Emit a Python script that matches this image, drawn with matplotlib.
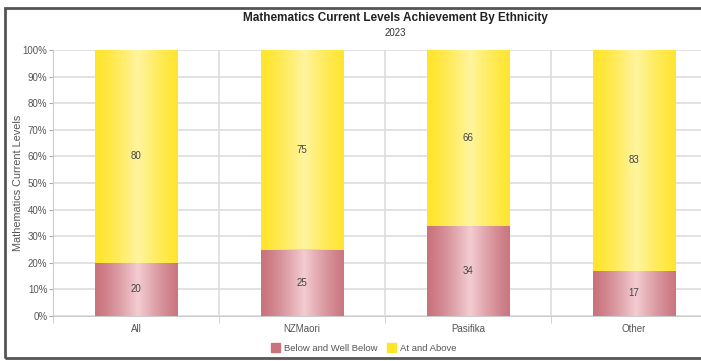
import numpy as np
import matplotlib
matplotlib.use("Agg")
import matplotlib.pyplot as plt
from matplotlib.patches import Rectangle
from matplotlib.colors import to_rgb

plt.rcParams["font.family"] = ["Liberation Sans", "DejaVu Sans"]

groups = ["All", "NZMaori", "Pasifika", "Other"]
below = [20, 25, 34, 17]
above = [80, 75, 66, 83]
series_names = ["Below and Well Below", "At and Above"]
yticks = [0, 10, 20, 30, 40, 50, 60, 70, 80, 90, 100]

red_edge, red_mid = "#c9737d", "#f3cdd2"
yel_edge, yel_mid = "#ffe52a", "#fff4a0"


def shade(edge, mid, n=200):
    # horizontal gradient: darker at the sides, light band just right of centre
    t = np.linspace(0, 1, n)
    w = np.clip(1 - np.abs(t - 0.52) / 0.52, 0, 1) ** 1.3
    e, m = np.array(to_rgb(edge)), np.array(to_rgb(mid))
    row = e[None, :] * (1 - w[:, None]) + m[None, :] * w[:, None]
    return row[None, :, :]


fig = plt.figure(figsize=(7.01, 3.61), dpi=100)
ax = fig.add_axes([53 / 701, 45 / 361, 664 / 701, 266 / 361])

x = np.arange(len(groups))
b1 = ax.bar(x, below, width=0.5, color=red_edge, zorder=2)
b2 = ax.bar(x, above, width=0.5, bottom=below, color=yel_edge, zorder=2)

for bars, (ce, cm) in [(b1, (red_edge, red_mid)), (b2, (yel_edge, yel_mid))]:
    img = shade(ce, cm)
    for p in bars:
        x0, y0 = p.get_x(), p.get_y()
        im = ax.imshow(img, extent=[x0, x0 + p.get_width(), y0, y0 + p.get_height()],
                       aspect="auto", zorder=3, interpolation="bilinear")
        im.set_clip_path(p)

for i in range(len(groups)):
    ax.text(x[i], below[i] / 2, str(below[i]), ha="center", va="center",
            fontsize=7, color="#444444", zorder=4)
    ax.text(x[i], below[i] + above[i] / 2, str(above[i]), ha="center", va="center",
            fontsize=7, color="#444444", zorder=4)

ax.set_xlim(-0.5, len(groups) - 0.5)
ax.set_ylim(0, 100)
ax.set_yticks(yticks)
ax.set_yticklabels([f"{v}%" for v in yticks])
ax.set_xticks(x)
ax.set_xticklabels(groups)
ax.set_xticks(np.arange(len(groups) + 1) - 0.5, minor=True)
ax.tick_params(axis="x", which="major", length=0, labelsize=7, labelcolor="#555555", pad=6)
ax.tick_params(axis="x", which="minor", length=5, color="#cccccc")
ax.tick_params(axis="y", length=3, color="#aaaaaa", labelsize=7, labelcolor="#555555", pad=1)
ax.grid(axis="y", color="#dddddd", lw=1.2, zorder=0)
ax.grid(axis="x", which="minor", color="#dddddd", lw=1.2, zorder=0)
for s in ["top", "right"]:
    ax.spines[s].set_visible(False)
ax.spines["left"].set_color("#cccccc")
ax.spines["bottom"].set_color("#cccccc")
ax.set_axisbelow(True)

ax.set_ylabel("Mathematics Current Levels", fontsize=7.8, color="#555555")
ax.yaxis.set_label_coords(-30 / 664, 0.5)

fig.text(395 / 701, 1 - 18 / 361, "Mathematics Current Levels Achievement By Ethnicity",
         ha="center", va="center", fontsize=8.5, fontweight="bold", color="#222222")
fig.text(395 / 701, 1 - 33 / 361, "2023", ha="center", va="center",
         fontsize=7, color="#333333")

# legend
handles = [Rectangle((0, 0), 1, 1, color=red_edge), Rectangle((0, 0), 1, 1, color=yel_edge)]
fig.legend(handles, series_names, loc="center", bbox_to_anchor=(364 / 701, 1 - 348 / 361),
           ncol=2, frameon=False, fontsize=6.8, handlelength=0.9, handleheight=1.1,
           handletextpad=0.5, columnspacing=1.0, labelcolor="#555555")

# outer frame, runs past the right edge
fig.patches.append(Rectangle((5 / 701, 3 / 361), 1.05, 350 / 361, transform=fig.transFigure,
                             fill=False, ec="#555555", lw=2))

fig.savefig("out.png", dpi=100)
